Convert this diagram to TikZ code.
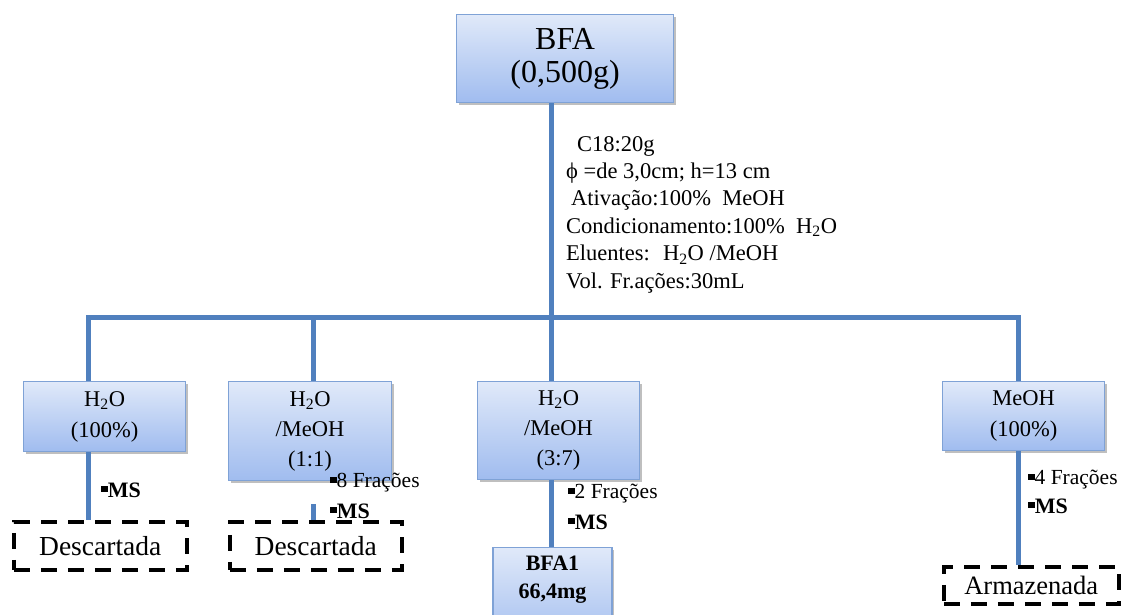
\documentclass[tikz,border=0pt]{standalone}
\usepackage{fontspec}
\setmainfont{Liberation Serif}
\usetikzlibrary{shadows}
\definecolor{boxtop}{HTML}{E0E9F9}
\definecolor{boxbot}{HTML}{A0BCEF}
\definecolor{boxedge}{HTML}{7FA2D6}
\definecolor{linkblue}{HTML}{5080BE}
\newcommand\sqbullet{\rule[0.22em]{0.3em}{0.3em}}
\tikzset{
  stage/.style={draw=boxedge, line width=1.2pt, top color=boxtop, bottom color=boxbot,
    anchor=north west, inner sep=0pt, align=center,
    drop shadow={shadow xshift=2pt, shadow yshift=-2pt, opacity=0.25, fill=black}},
  fate/.style={draw=black, line width=3.5pt, dash pattern=on 16pt off 11pt,
    anchor=north west, inner sep=0pt, font=\fontsize{27.5}{30}\selectfont},
  link/.style={draw=linkblue, line width=5pt},
  note/.style={anchor=west, inner sep=0pt, font=\fontsize{21.5}{24}\selectfont},
  bnote/.style={note, font=\fontsize{22}{24}\selectfont\bfseries}
}
\begin{document}
\begin{tikzpicture}[x=1pt,y=-1pt]
\useasboundingbox (0,0) rectangle (1132,614);
\clip (0,0) rectangle (1132,614);

% top sample
\node[stage, minimum width=217pt, minimum height=88pt, font=\fontsize{32}{33}\selectfont]
  (bfa) at (456,14) {BFA\\(0,500g)};

% column conditions
\node[anchor=north west, inner sep=0pt, align=left, font=\fontsize{22.5}{27.4}\selectfont]
  (cond) at (566,136)
  {\hspace*{11pt}C18:20g\\
   ϕ =de 3,0cm; h=13 cm\\
   \hspace*{5pt}Ativação:100\%~ MeOH\\
   Condicionamento:100\%~ H\textsubscript{2}O\\
   Eluentes:~ H\textsubscript{2}O /MeOH\\
   Vol. Fr.ações:30mL};

% elution stages
\begin{scope}[font=\fontsize{22.5}{31}\selectfont]
\node[stage, minimum width=162pt, minimum height=70pt] (s1) at (23,381) {H\textsubscript{2}O\\(100\%)};
\node[stage, minimum width=163pt, minimum height=99pt] (s2) at (228,381) {H\textsubscript{2}O\\[-1pt]/MeOH\\[-1pt](1:1)};
\node[stage, minimum width=162pt, minimum height=98pt] (s3) at (477,381) {H\textsubscript{2}O\\[-1pt]/MeOH\\[-1pt](3:7)};
\node[stage, minimum width=162pt, minimum height=69pt] (s4) at (942,381) {MeOH\\(100\%)};
\end{scope}

% fate of fractions
\node[fate, minimum width=173pt, minimum height=48pt] (d1) at (12,520) {Descartada};
\node[fate, minimum width=172pt, minimum height=48pt] (d2) at (228,520) {Descartada};
\node[fate, minimum width=175pt, minimum height=37pt, font=\fontsize{26.5}{30}\selectfont] (d4) at (942,565) {Armazenada};
\node[stage, anchor=north, minimum width=119pt, minimum height=100pt, font=\fontsize{22}{28}\selectfont\bfseries]
  (r3) at (552.5,547) {BFA1\\66,4mg\\[12pt]};

% branch coordinates
\coordinate (j1) at (88,317);
\coordinate (j2) at (313,317);
\coordinate (j3) at (551,317);
\coordinate (j4) at (1018,317);

% connectors
\draw[link] (j3 |- bfa.south) -- (j3);
\draw[link] (j1 |- s1.north) -- (j1) -- (j4) -- (j4 |- s4.north);
\draw[link] (j2) -- (j2 |- s2.north);
\draw[link] (j3) -- (j3 |- s3.north);
\draw[link] (j1 |- s1.south) -- (j1 |- d1.north);
\draw[link] ([yshift=-23pt]j2 |- s2.south) -- (j2 |- d2.north);
\draw[link] (j3 |- s3.south) -- (j3 |- r3.north);
\draw[link] (j4 |- s4.south) -- (j4 |- d4.north);

% fraction notes
\node[bnote] (m1) at (101,490) {\sqbullet MS};
\node[note] (f2) at (330,483) {\sqbullet8 Frações};
\node[bnote] (m2) at (330,511) {\sqbullet MS};
\node[note] (f3) at (568,494) {\sqbullet2 Frações};
\node[bnote] (m3) at (568,522) {\sqbullet MS};
\node[note] (f4) at (1028,480) {\sqbullet4 Frações};
\node[bnote] (m4) at (1028,506) {\sqbullet MS};
\end{tikzpicture}
\end{document}
